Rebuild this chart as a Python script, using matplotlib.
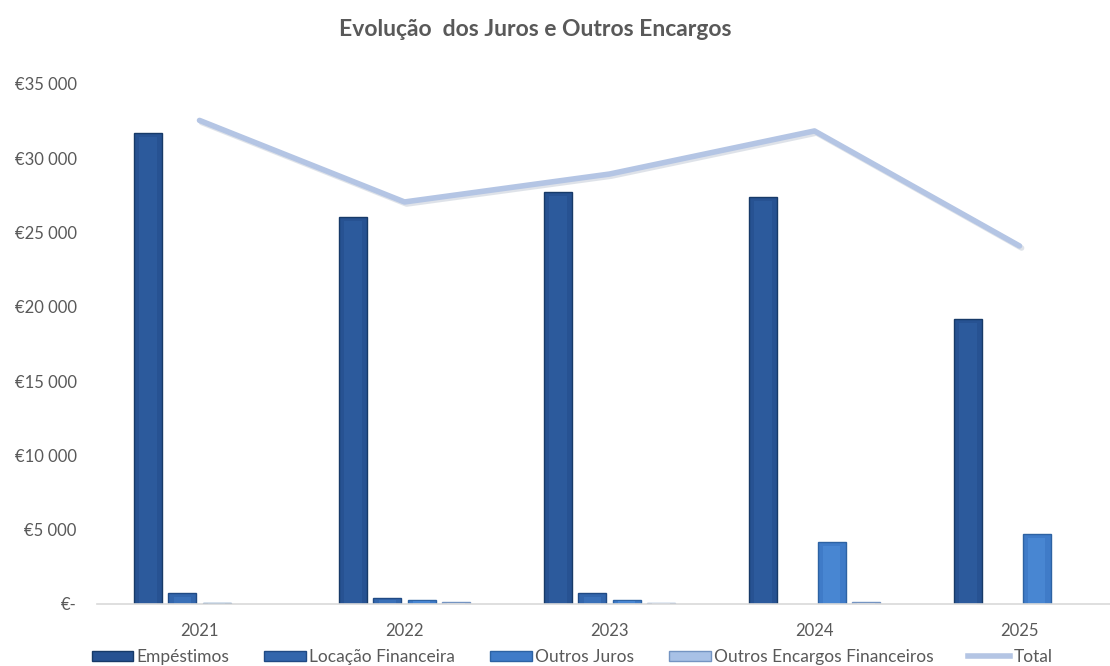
import matplotlib
matplotlib.use("Agg")
import matplotlib.pyplot as plt
import matplotlib.patheffects as pe
from matplotlib.patches import Patch
from matplotlib.lines import Line2D
import numpy as np

years = ["2021", "2022", "2023", "2024", "2025"]
emprestimos = [31700, 26050, 27730, 27400, 19180]
locacao = [720, 430, 720, 0, 0]
outros_juros = [80, 300, 300, 4150, 4700]
outros_encargos = [0, 150, 60, 120, 0]
total = [32550, 27060, 28940, 31840, 24100]

series_names = ["Empéstimos", "Locação Financeira", "Outros Juros",
                "Outros Encargos Financeiros"]
series = [emprestimos, locacao, outros_juros, outros_encargos]
face = ["#275292", "#3366AC", "#3F7BC8", "#A8C1E6"]
inner = ["#2C5A9C", "#3A70B8", "#4886D2", "#BED3EF"]
edge = ["#173A68", "#204A84", "#2D62A3", "#7494C2"]
line_color = "#B4C5E4"

plt.rcParams['font.family'] = ['Lato', 'DejaVu Sans']
fig = plt.figure(figsize=(11.1, 6.66), dpi=100)
W, H = 1110, 666
ax = fig.add_axes([97 / W, 1 - 604 / H, 1025 / W, 520 / H])

x = np.arange(len(years))
bw = 0.137
step = 0.168
offsets = (np.arange(4) - 1.5) * step
for i, vals in enumerate(series):
    v = np.array(vals, dtype=float)
    m = v > 0
    ax.bar(x[m] + offsets[i], v[m], width=bw, color=face[i],
           edgecolor=edge[i], linewidth=1.0, zorder=2)
    # inner lighter body for a bevelled look
    ax.bar(x[m] + offsets[i], np.maximum(v[m] - 250, v[m] * 0.6),
           width=bw * 0.62, color=inner[i], linewidth=0, zorder=2.1)

ax.plot(x, total, color=line_color, lw=4, solid_capstyle='round', zorder=3,
        path_effects=[pe.SimpleLineShadow(offset=(1.5, -1.5), alpha=0.25,
                                          shadow_color="#7F8FA8"),
                      pe.Normal()])

ax.set_xlim(-0.5, 4.5)
ax.set_ylim(0, 35000)
yt = np.arange(0, 35001, 5000)
ax.set_yticks(yt)
ax.set_yticklabels(["€-" if v == 0 else "€" + f"{v:,}".replace(",", " ")
                    for v in yt])
ax.set_xticks(x)
ax.set_xticklabels(years)
ax.tick_params(axis='both', length=0, labelsize=12, colors="#595959")
ax.tick_params(axis='y', pad=14.5)
ax.tick_params(axis='x', pad=14)
for s in ["top", "right", "left"]:
    ax.spines[s].set_visible(False)
ax.spines["bottom"].set_color("#D9D9D9")
ax.spines["bottom"].set_linewidth(1.2)

fig.text(535 / W, 1 - 29 / H, "Evolução  dos Juros e Outros Encargos",
         ha="center", va="center", fontsize=16.5, fontweight="bold",
         color="#595959")

handles = [Patch(facecolor=fc, edgecolor=ec, linewidth=1.0)
           for fc, ec in zip(face, edge)]
handles.append(Line2D([0], [0], color=line_color, lw=4))
labels = series_names + ["Total"]
fig.legend(handles, labels, loc="center", bbox_to_anchor=(572 / W, 1 - 657 / H),
           ncol=5, frameon=False, fontsize=12.5, handlelength=2.4,
           handleheight=0.55, handletextpad=0.2, columnspacing=2.0,
           labelcolor="#595959", borderaxespad=0, borderpad=0)

fig.savefig("out.png", dpi=100)
